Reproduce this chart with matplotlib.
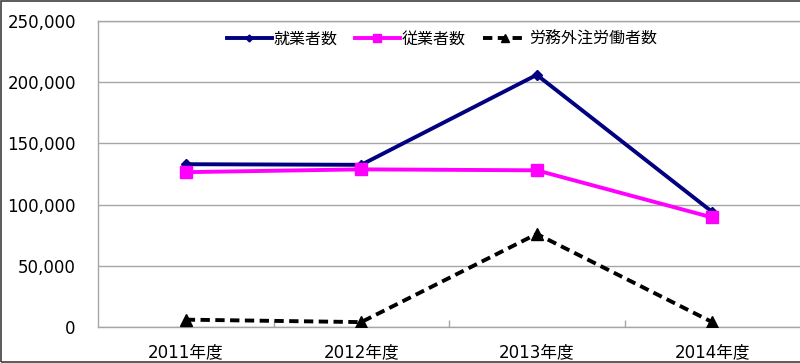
import matplotlib
matplotlib.use("Agg")
import matplotlib.pyplot as plt
from matplotlib.ticker import FuncFormatter, FixedLocator
from matplotlib.patches import Rectangle

plt.rcParams['font.family'] = ['DejaVu Sans', 'Noto Sans CJK JP']

categories = ["2011年度", "2012年度", "2013年度", "2014年度"]
employed = [133000, 132500, 206000, 94000]
employees = [126500, 128800, 128000, 89500]
dispatched = [6000, 4000, 76000, 4000]
series_names = ["就業者数", "従業者数", "労務外注労働者数"]
yticks = [0, 50000, 100000, 150000, 200000, 250000]

W, H = 800, 363
fig = plt.figure(figsize=(W / 100, H / 100), dpi=100)
ax = fig.add_axes([98 / W, 1 - 327 / H, 702 / W, 306 / H])

x = list(range(len(categories)))
ax.plot(x, employed, color="#000080", lw=2.8, marker="D", ms=5,
        label=series_names[0], zorder=3)
ax.plot(x, employees, color="#FF00FF", lw=2.8, marker="s", ms=9,
        label=series_names[1], zorder=4)
ax.plot(x, dispatched, color="black", lw=2.8, ls=(0, (2.4, 1.4)), marker="^",
        ms=9, label=series_names[2], zorder=5)

ax.set_xlim(-0.5, 3.5)
ax.set_ylim(0, 250000)
ax.set_yticks(yticks)
ax.yaxis.set_major_formatter(FuncFormatter(lambda v, p: f"{int(v):,}"))
ax.grid(axis="y", color="#a6a6a6", lw=1)
ax.set_axisbelow(True)

ax.set_xticks(x)
ax.set_xticklabels(categories)
ax.xaxis.set_minor_locator(FixedLocator([0.5, 1.5, 2.5]))
ax.tick_params(axis="x", which="major", length=0, pad=12, labelsize=12)
ax.tick_params(axis="x", which="minor", direction="in", length=5,
               color="#a6a6a6", width=1)
ax.tick_params(axis="y", length=0, pad=16, labelsize=12)

for s in ["left", "bottom", "top"]:
    ax.spines[s].set_color("#a6a6a6")
    ax.spines[s].set_linewidth(1)
ax.spines["right"].set_visible(False)

leg = ax.legend(loc="upper center", bbox_to_anchor=(0.49, 1.015), ncol=3,
                frameon=False, handlelength=2.8, markerscale=0.7,
                handletextpad=0.1, columnspacing=1.1,
                prop={'family': ['Noto Sans CJK JP'], 'size': 11.5})

fig.patches.append(Rectangle((0.5 / W, 1.0 / H), 1.2, 1 - 2.0 / H,
                             transform=fig.transFigure, fill=False,
                             edgecolor="#404040", lw=1.2))

fig.savefig("out.png", dpi=100)
